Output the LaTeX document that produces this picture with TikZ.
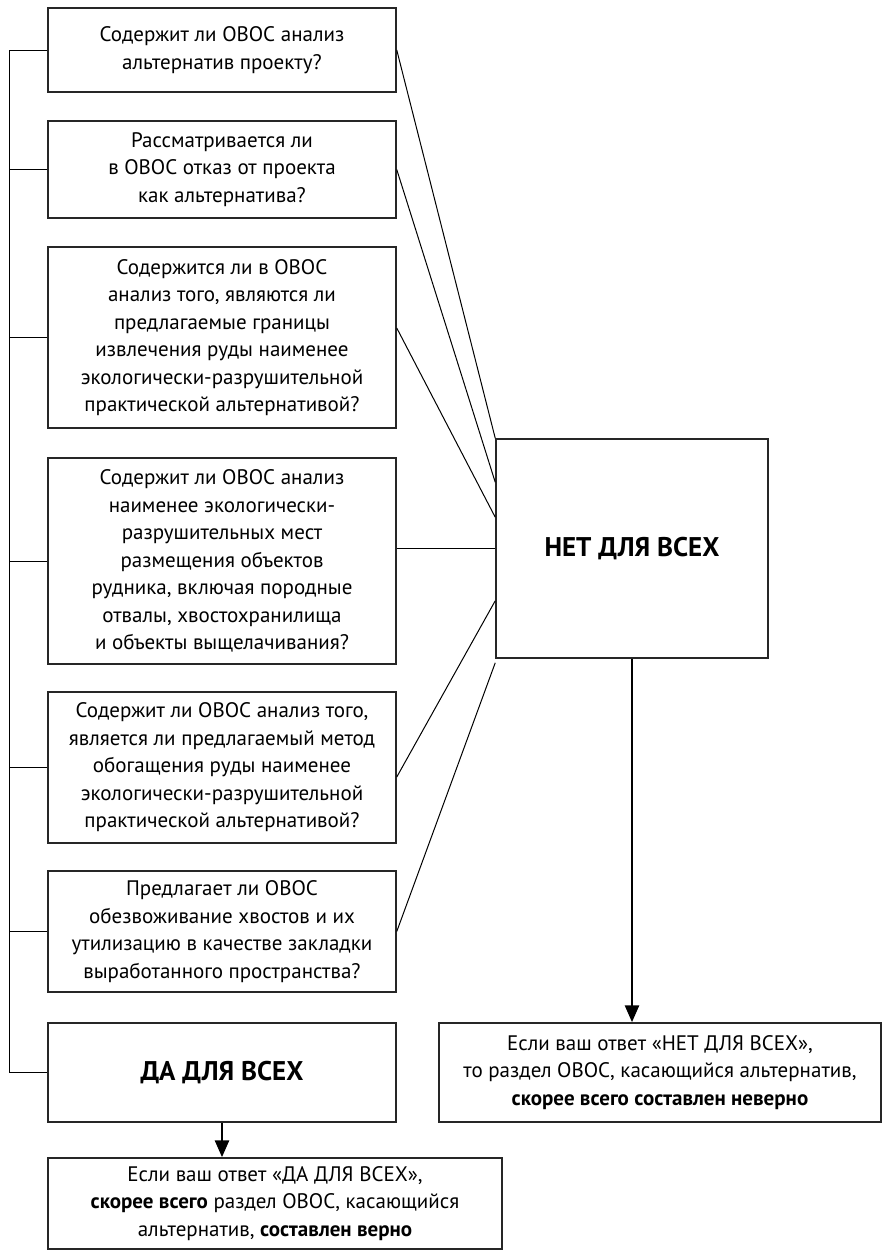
\documentclass[tikz,border=0pt]{standalone}
\usepackage{fontspec}
\setmainfont{PT Sans}
\usepackage{tikz}
\usetikzlibrary{arrows.meta,calc}

\begin{document}
\begin{tikzpicture}[
    x=1pt, y=-1pt,
    >={Triangle[width=14pt,length=17pt]},
    qbox/.style={
        rectangle,
        draw=black!85,
        line width=1.5pt,
        minimum width=348pt,
        inner sep=0pt,
        align=center,
        font=\fontsize{21}{27.5}\selectfont
    },
    bigbox/.style={
        qbox,
        font=\fontsize{27}{32}\selectfont\bfseries
    },
    link/.style={
        line width=1pt
    },
    flow/.style={
        ->,
        line width=2.8pt
    }
]
\useasboundingbox (0,0) rectangle (889,1251);

% ---- Questions (left column) ----
\node[qbox, minimum height=84pt]  (q1) at (222,50)    {Содержит ли ОВОС анализ\\альтернатив проекту?};
\node[qbox, minimum height=97pt]  (q2) at (222,169.5) {Рассматривается ли\\в ОВОС отказ от проекта\\как альтернатива?};
\node[qbox, minimum height=181pt] (q3) at (222,337.5) {Содержится ли в ОВОС\\анализ того, являются ли\\предлагаемые границы\\извлечения руды наименее\\экологически-разрушительной\\практической альтернативой?};
\node[qbox, minimum height=206pt] (q4) at (222,561)   {Содержит ли ОВОС анализ\\наименее экологически-\\разрушительных мест\\размещения объектов\\рудника, включая породные\\отвалы, хвостохранилища\\и объекты выщелачивания?};
\node[qbox, minimum height=151pt] (q5) at (222,767.5) {Содержит ли ОВОС анализ того,\\является ли предлагаемый метод\\обогащения руды наименее\\экологически-разрушительной\\практической альтернативой?};
\node[qbox, minimum height=121pt] (q6) at (222,931.5) {Предлагает ли ОВОС\\обезвоживание хвостов и их\\утилизацию в качестве закладки\\выработанного пространства?};

% ---- Answers ----
\node[bigbox, minimum height=99pt] (yes) at (222,1072.5) {ДА ДЛЯ ВСЕХ};
\node[bigbox, minimum width=272pt, minimum height=219pt] (no) at (632,548.5) {НЕТ ДЛЯ ВСЕХ};

% ---- Conclusions ----
\node[qbox, minimum width=454pt, minimum height=91pt] (yesres) at (275,1203.5) {Если ваш ответ «ДА ДЛЯ ВСЕХ»,\\\textbf{скорее всего} раздел ОВОС, касающийся\\альтернатив, \textbf{составлен верно}};
\node[qbox, minimum width=442pt, minimum height=99pt] (nores) at (660,1072.5) {Если ваш ответ «НЕТ ДЛЯ ВСЕХ»,\\то раздел ОВОС, касающийся альтернатив,\\\textbf{скорее всего составлен неверно}};

% ---- Left trunk: every question joins "yes" ----
\draw[link] (q1.west) -- ++(-38,0) coordinate (trunk) |- (yes.west);
\foreach \q in {q2,q3,q4,q5,q6}
    \draw[link] (\q.west) -- (\q.west -| trunk);

% ---- Fan into "no" ----
\draw[link] (q1.east) -- (no.north west);
\draw[link] (q2.east) -- ([yshift=-44pt]no.north west);
\draw[link] ([yshift=9.5pt]q3.east) -- ([yshift=-79pt]no.north west);
\draw[link] (no.west -| q4.east) -- (no.west);
\draw[link] ([yshift=-9.5pt]q5.east) -- ([yshift=58pt]no.south west);
\draw[link] (q6.east) -- ([yshift=-4pt]no.south west);

% ---- Outcomes ----
\draw[flow] (no.south) -- (no.south |- nores.north);
\draw[flow] (yes.south) -- (yes.south |- yesres.north);

\end{tikzpicture}
\end{document}
